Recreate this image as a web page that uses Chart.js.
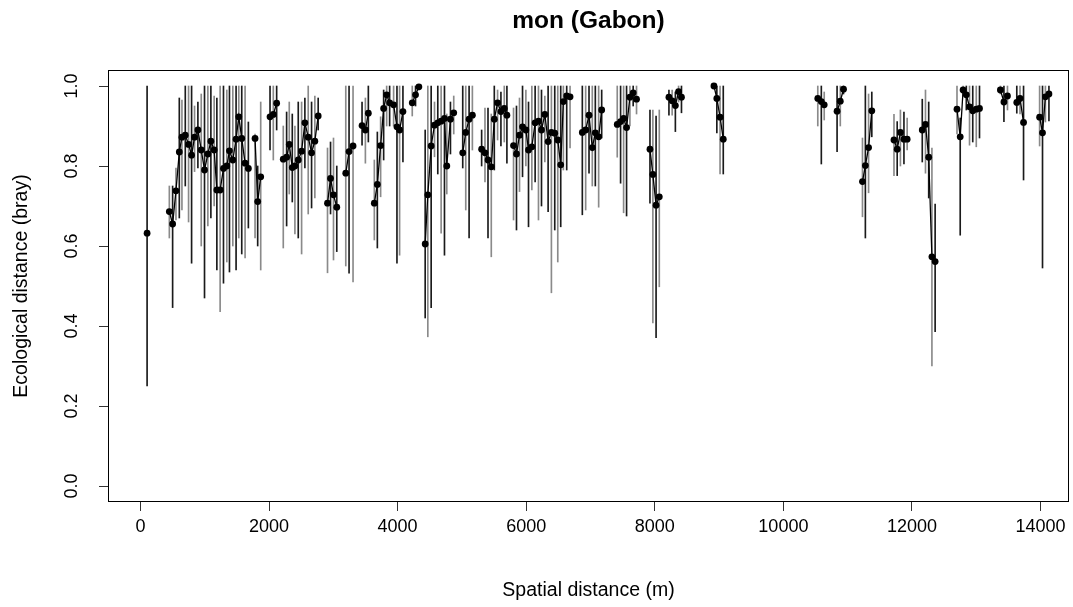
<!DOCTYPE html>
<html>
<head>
<meta charset="utf-8">
<title>mon (Gabon)</title>
<script src="https://cdn.jsdelivr.net/npm/chart.js@4.4.1/dist/chart.umd.min.js"></script>
<style>
  html, body { margin: 0; padding: 0; background: #fff; }
  #wrap { width: 1073px; height: 607px; }
</style>
</head>
<body>
<div id="wrap"><canvas id="distChart" width="1073" height="607"></canvas></div>
<script>
// binned spatial distance (m); null = empty bin, line breaks there
var dist = [104, null,
  450, 501, 553, 605, 646, 698, 749, 796, 842, 894, 946, 997, 1049, 1096, 1147, 1189, 1240, 1292, 1344, 1385, 1437, 1488, 1530, 1576, 1628, 1679, null,
  1783, 1824, 1871, null,
  2016, 2067, 2119, null,
  2222, 2274, 2315, 2362, 2403, 2455, 2507, 2558, 2610, 2662, 2713, 2765, null,
  2910, 2957, 3003, 3054, null,
  3194, 3245, 3307, null,
  3447, 3499, 3545, null,
  3638, 3685, 3736, 3783, 3830, 3876, 3938, 3990, 4031, 4083, null,
  4228, 4279, 4331, null,
  4429, 4470, 4522, 4574, 4625, 4677, 4729, 4765, 4822, 4873, null,
  5013, 5060, 5112, 5163, null,
  5307, 5359, 5406, 5457, 5504, 5555, 5607, 5659, 5700, null,
  5803, 5849, 5896, 5943, 5995, 6036, 6088, 6139, 6191, 6238, 6290, 6341, 6392, 6444, 6491, 6537, 6578, 6630, 6682, null,
  6873, 6925, 6977, 7028, 7075, 7127, 7174, null,
  7416, 7468, 7515, 7561, 7613, 7664, 7716, null,
  7925, 7970, 8020, 8070, null,
  8220, 8270, 8320, 8370, 8415, null,
  8920, 8965, 9015, 9065, null,
  10535, 10590, 10635, null,
  10835, 10885, 10935, null,
  11230, 11275, 11325, 11375, null,
  11720, 11770, 11820, 11875, 11925, null,
  12160, 12210, 12260, 12310, 12360, null,
  12700, 12750, 12795, 12845, 12895, 12945, 13000, 13050, null,
  13375, 13430, 13485, null,
  13630, 13680, 13735, null,
  13985, 14030, 14075, 14130];

// mean ecological distance per bin
var meanVal = [0.632, null,
  0.686, 0.655, 0.738, 0.835, 0.872, 0.877, 0.854, 0.827, 0.872, 0.89, 0.84, 0.79, 0.83, 0.862, 0.84, 0.74, 0.74, 0.794, 0.80, 0.838, 0.815, 0.867, 0.923, 0.869, 0.807, 0.794, null,
  0.869, 0.711, 0.773, null,
  0.923, 0.929, 0.957, null,
  0.817, 0.822, 0.854, 0.796, 0.80, 0.815, 0.837, 0.908, 0.872, 0.833, 0.862, 0.925, null,
  0.707, 0.769, 0.728, 0.697, null,
  0.782, 0.836, 0.85, null,
  0.901, 0.89, 0.932, null,
  0.707, 0.754, 0.851, 0.944, 0.978, 0.958, 0.953, 0.898, 0.89, 0.936, null,
  0.958, 0.978, 0.998, null,
  0.605, 0.728, 0.85, 0.902, 0.908, 0.912, 0.919, 0.80, 0.917, 0.933, null,
  0.833, 0.884, 0.917, 0.927, null,
  0.842, 0.833, 0.815, 0.798, 0.917, 0.958, 0.936, 0.944, 0.927, null,
  0.851, 0.83, 0.877, 0.898, 0.89, 0.84, 0.848, 0.908, 0.912, 0.89, 0.929, 0.861, 0.884, 0.882, 0.865, 0.803, 0.961, 0.975, 0.973, null,
  0.884, 0.89, 0.927, 0.846, 0.883, 0.873, 0.94, null,
  0.904, 0.911, 0.919, 0.896, 0.972, 0.983, 0.967, null,
  0.842, 0.779, 0.702, 0.723, null,
  0.972, 0.963, 0.951, 0.986, 0.972, null,
  1.0, 0.969, 0.922, 0.867, null,
  0.969, 0.961, 0.953, null,
  0.937, 0.962, 0.992, null,
  0.761, 0.801, 0.846, 0.938, null,
  0.865, 0.842, 0.884, 0.867, 0.867, null,
  0.89, 0.904, 0.822, 0.573, 0.561, null,
  0.942, 0.873, 0.99, 0.978, 0.948, 0.938, 0.942, 0.944, null,
  0.99, 0.96, 0.975, null,
  0.959, 0.969, 0.909, null,
  0.922, 0.883, 0.973, 0.98];

// lower / upper end of each whisker
var lowVal = [0.25, null,
  0.62, 0.446, 0.665, 0.67, 0.69, 0.75, 0.66, 0.557, 0.786, 0.795, 0.60, 0.47, 0.65, 0.67, 0.70, 0.54, 0.436, 0.507, 0.56, 0.535, 0.60, 0.54, 0.62, 0.58, 0.57, 0.645, null,
  0.62, 0.60, 0.54, null,
  0.84, 0.815, 0.89, null,
  0.595, 0.65, 0.73, 0.71, 0.63, 0.62, 0.58, 0.795, 0.68, 0.695, 0.72, 0.89, null,
  0.533, 0.68, 0.565, 0.586, null,
  0.55, 0.532, 0.51, null,
  0.852, 0.807, 0.86, null,
  0.615, 0.595, 0.723, 0.815, 0.90, 0.90, 0.90, 0.557, 0.577, 0.81, null,
  0.925, 0.95, 0.99, null,
  0.42, 0.373, 0.446, 0.823, 0.78, 0.632, 0.577, 0.73, 0.83, 0.88, null,
  0.795, 0.69, 0.62, 0.84, null,
  0.80, 0.76, 0.62, 0.573, 0.79, 0.865, 0.85, 0.86, 0.807, null,
  0.665, 0.64, 0.736, 0.773, 0.80, 0.648, 0.74, 0.76, 0.665, 0.70, 0.81, 0.686, 0.483, 0.64, 0.56, 0.648, 0.79, 0.79, 0.845, null,
  0.678, 0.69, 0.782, 0.75, 0.75, 0.697, 0.87, null,
  0.822, 0.757, 0.683, 0.675, 0.90, 0.95, 0.93, null,
  0.707, 0.408, 0.371, 0.498, null,
  0.927, 0.927, 0.886, 0.96, 0.933, null,
  0.995, 0.883, 0.78, 0.78, null,
  0.90, 0.805, 0.915, null,
  0.836, 0.90, 0.98, null,
  0.673, 0.62, 0.733, 0.873, null,
  0.776, 0.776, 0.80, 0.805, 0.84, null,
  0.81, 0.782, 0.72, 0.30, 0.386, null,
  0.88, 0.627, 0.975, 0.94, 0.852, 0.86, 0.848, 0.87, null,
  0.98, 0.911, 0.94, null,
  0.932, 0.93, 0.765, null,
  0.85, 0.545, 0.91, 0.913];

var highVal = [1.0, null,
  0.75, 0.75, 0.795, 0.97, 0.965, 1.0, 1.0, 1.0, 0.95, 0.96, 0.98, 1.0, 1.0, 1.0, 0.975, 0.97, 1.0, 1.0, 0.99, 1.0, 1.0, 1.0, 1.0, 1.0, 1.0, 0.91, null,
  0.88, 0.80, 0.96, null,
  1.0, 1.0, 1.0, null,
  0.90, 0.935, 0.96, 0.93, 0.90, 0.96, 0.96, 0.97, 1.0, 0.96, 0.975, 0.97, null,
  0.845, 0.86, 0.87, 0.80, null,
  1.0, 1.0, 1.0, null,
  0.96, 0.97, 1.0, null,
  0.815, 0.885, 0.923, 0.99, 1.0, 1.0, 1.0, 1.0, 1.0, 1.0, null,
  1.0, 1.0, 1.0, null,
  0.89, 1.0, 1.0, 0.96, 1.0, 1.0, 1.0, 0.93, 0.96, 0.975, null,
  1.0, 1.0, 1.0, 1.0, null,
  0.89, 0.945, 0.945, 0.93, 1.0, 0.99, 0.985, 1.0, 1.0, null,
  0.945, 0.95, 0.97, 1.0, 0.99, 0.96, 1.0, 1.0, 1.0, 0.99, 0.975, 1.0, 1.0, 1.0, 1.0, 1.0, 1.0, 1.0, 1.0, null,
  1.0, 1.0, 1.0, 1.0, 1.0, 1.0, 0.99, null,
  1.0, 1.0, 1.0, 1.0, 1.0, 1.0, 1.0, null,
  0.94, 0.94, 0.925, 0.94, null,
  0.99, 0.99, 0.985, 1.0, 1.0, null,
  1.0, 1.0, 1.0, 1.0, null,
  1.0, 1.0, 0.985, null,
  1.0, 1.0, 1.0, null,
  0.87, 1.0, 0.98, 0.985, null,
  0.929, 0.911, 0.94, 0.935, 0.92, null,
  0.967, 0.99, 0.96, 0.845, 0.705, null,
  1.0, 0.92, 1.0, 1.0, 1.0, 1.0, 1.0, 1.0, null,
  1.0, 1.0, 1.0, null,
  1.0, 1.0, 1.0, null,
  1.0, 1.0, 1.0, 1.0];

var xTicks = [0, 2000, 4000, 6000, 8000, 10000, 12000, 14000];
var yTicks = [0, 0.2, 0.4, 0.6, 0.8, 1.0];

var labelFont = { family: "'Liberation Sans', Arial, sans-serif", size: 18 };
var axisTitleFont = { family: "'Liberation Sans', Arial, sans-serif", size: 19.5 };

// line points (null y breaks the line between clusters)
var linePts = [];
var whiskers = [];
for (var i = 0; i < dist.length; i++) {
    if (dist[i] === null) {
        linePts.push({ x: dist[i - 1], y: null });
    } else {
        linePts.push({ x: dist[i], y: meanVal[i] });
        whiskers.push({ x: dist[i], y: [lowVal[i], highVal[i]] });
    }
}

// R style box round the plot region
var boxPlugin = {
    id: 'plotBox',
    afterDraw: function (chart) {
        var a = chart.chartArea;
        var ctx = chart.ctx;
        ctx.save();
        ctx.strokeStyle = '#000';
        ctx.lineWidth = 1;
        ctx.strokeRect(a.left + 0.5, a.top + 0.5, a.right - a.left - 1, a.bottom - a.top - 1);
        ctx.restore();
    }
};

var ctx = document.getElementById('distChart').getContext('2d');
var distChart = new Chart(ctx, {
    type: 'line',
    data: {
        datasets: [{
            type: 'line',
            label: 'mean',
            data: linePts,
            order: 0,
            borderColor: '#000',
            borderWidth: 1.3,
            backgroundColor: '#000',
            pointRadius: 3.4,
            pointBackgroundColor: '#000',
            pointBorderWidth: 0,
            spanGaps: false,
            tension: 0
        }, {
            type: 'bar',
            label: 'range',
            data: whiskers,
            order: 1,
            // thin lines alias to grey or black depending on where they fall
            backgroundColor: function (c) { return c.dataIndex % 2 ? '#8a8a8a' : '#1a1a1a'; },
            borderWidth: 0,
            barThickness: 1,
            grouped: false
        }]
    },
    options: {
        responsive: false,
        animation: false,
        devicePixelRatio: 1,
        layout: { padding: { left: 0, right: 1, top: 0, bottom: 0 } },
        plugins: {
            legend: { display: false },
            tooltip: { enabled: false },
            title: {
                display: true,
                text: 'mon (Gabon)',
                fullSize: false,
                color: '#000',
                font: { family: "'Liberation Sans', Arial, sans-serif", size: 24.5, weight: 'bold' },
                padding: { top: 7, bottom: 33.6 }
            }
        },
        scales: {
            x: {
                type: 'linear',
                min: -504,
                max: 14442,
                offset: false,
                afterBuildTicks: function (s) { s.ticks = xTicks.map(function (v) { return { value: v }; }); },
                afterFit: function (s) { s.height = 105; },
                ticks: {
                    autoSkip: false,
                    maxRotation: 0,
                    padding: 5,
                    color: '#000',
                    font: labelFont,
                    callback: function (v) { return String(v); }
                },
                grid: { offset: false, drawOnChartArea: false, tickLength: 9, color: '#333' },
                border: { display: false },
                title: {
                    display: true,
                    text: 'Spatial distance (m)',
                    color: '#000',
                    font: axisTitleFont,
                    padding: { top: 0, bottom: 5 }
                }
            },
            y: {
                type: 'linear',
                min: -0.04,
                max: 1.04,
                afterBuildTicks: function (s) { s.ticks = yTicks.map(function (v) { return { value: v }; }); },
                afterFit: function (s) { s.width = 108; },
                ticks: {
                    autoSkip: false,
                    minRotation: 90,
                    maxRotation: 90,
                    crossAlign: 'center',
                    padding: 14,
                    color: '#000',
                    font: labelFont,
                    callback: function (v) { return v.toFixed(1); }
                },
                grid: { offset: false, drawOnChartArea: false, tickLength: 9, color: '#333' },
                border: { display: false },
                title: {
                    display: true,
                    text: 'Ecological distance (bray)',
                    color: '#000',
                    font: axisTitleFont,
                    padding: { top: 10, bottom: 0 }
                }
            }
        }
    },
    plugins: [boxPlugin]
});
</script>
</body>
</html>
